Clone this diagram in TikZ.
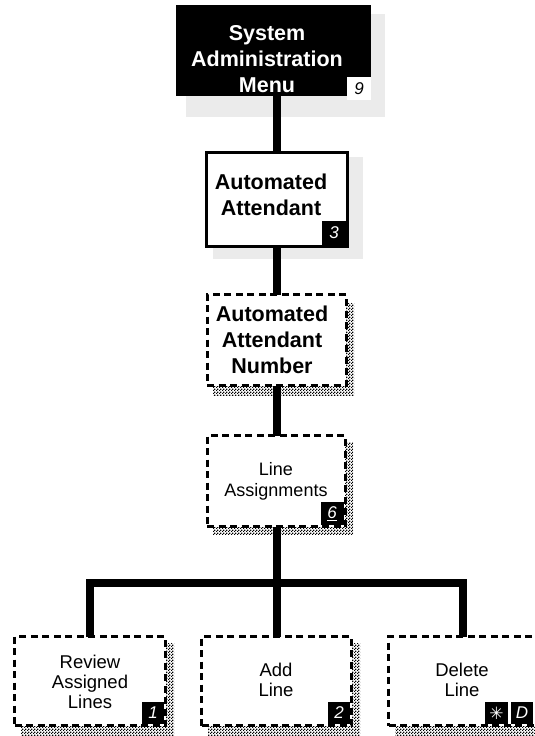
\documentclass[tikz,border=0pt]{standalone}
\usepackage{fontspec}
\setmainfont{Liberation Sans}
\newfontfamily\symfont{DejaVu Sans}
\usetikzlibrary{patterns,calc}

% fine black/white checker used for the dotted drop shadows
\pgfdeclarepatternformonly{checker}{\pgfpointorigin}{\pgfqpoint{3pt}{3pt}}{\pgfqpoint{3pt}{3pt}}{%
  \pgfpathrectangle{\pgfpointorigin}{\pgfqpoint{1.5pt}{1.5pt}}%
  \pgfpathrectangle{\pgfqpoint{1.5pt}{1.5pt}}{\pgfqpoint{1.5pt}{1.5pt}}%
  \pgfusepath{fill}}

\begin{document}
\begin{tikzpicture}[x=1pt,y=-1pt,
  every node/.style={inner sep=0pt, outer sep=0pt},
  blackbox/.style={fill=black, rectangle},
  solidbox/.style={draw=black, line width=3pt, fill=white, rectangle},
  dashbox/.style={draw=black, line width=3pt, fill=white, rectangle, dash pattern=on 7pt off 4.5pt},
  bigtxt/.style={font=\fontsize{21.5}{26}\selectfont\bfseries, align=center},
  midtxt/.style={font=\fontsize{18}{21}\selectfont, align=center},
  smalltxt/.style={font=\fontsize{18.5}{20}\selectfont, align=center},
  keybox/.style={fill=black, text=white, font=\fontsize{17}{17}\selectfont\itshape, minimum width=23pt, minimum height=23pt},
  keyboxsmall/.style={keybox, minimum width=22pt, minimum height=22pt},
  whitekey/.style={keybox, fill=white, text=black},
  conn/.style={line width=8pt},
  softshadow/.style={fill=black!8},
  dotshadow/.style={pattern=checker, pattern color=black},
]
\useasboundingbox (0,0) rectangle (535,736);

% ---- shadows -------------------------------------------------------
\fill[softshadow] (186,14) rectangle (385,117);
\fill[softshadow] (213,157) rectangle (363,259);
\fill[dotshadow]  (213,303) rectangle (354,395);
\fill[dotshadow]  (213,442) rectangle (353,534);
\fill[dotshadow]  (21,643)  rectangle (174,736);
\fill[dotshadow]  (208,643) rectangle (360,736);
\fill[dotshadow]  (395,643) rectangle (545,736);

% ---- boxes ---------------------------------------------------------
\node[blackbox, minimum width=195pt, minimum height=91pt] (sysmenu) at (273.5,50.5) {};
\node[solidbox, minimum width=141pt, minimum height=94pt] (aa) at (277,199.5) {};
\node[dashbox, minimum width=139pt, minimum height=91pt] (aanum) at (276.5,340) {};
\node[dashbox, minimum width=138pt, minimum height=91pt] (lines) at (276,481) {};
\node[dashbox, minimum width=151pt, minimum height=89pt] (review) at (90,681) {};
\node[dashbox, minimum width=150pt, minimum height=89pt] (add) at (276.5,681) {};
\node[dashbox, minimum width=148pt, minimum height=89pt] (del) at (462.5,681) {};

% ---- connectors ----------------------------------------------------
\coordinate (bus) at (277,583);
\draw[conn] (sysmenu.south -| aa.north) -- (aa.north);
\draw[conn] (aa.south) -- (aa.south |- aanum.north);
\draw[conn] (aa.south |- aanum.south) -- (aa.south |- lines.north);
\draw[conn] (aa.south |- lines.south) -- (bus);
\draw[conn] (review.north) -- (review.north |- bus) -- (del.north |- bus) -- (del.north);
\draw[conn] (add.north) -- (add.north |- bus);

% ---- box texts -----------------------------------------------------
\node[bigtxt, text=white] (sysmenu-text) at (267,59) {System\\Administration\\Menu};
\node[bigtxt] (aa-text) at (271,195) {Automated\\Attendant};
\node[bigtxt] (aanum-text) at (272,339.5) {Automated\\Attendant\\Number};
\node[midtxt] (lines-text) at (276,481) {Line\\Assignments};
\node[smalltxt] (review-text) at (90,682) {Review\\Assigned\\Lines};
\node[smalltxt] (add-text) at (276,680) {Add\\Line};
\node[smalltxt] (del-text) at (462,680) {Delete\\Line};

% ---- key labels ----------------------------------------------------
\node[whitekey, minimum width=24pt, anchor=south east] (key9) at (371,100) {9};
\node[keybox, minimum width=24pt, minimum height=24pt, anchor=south east] (key3) at ($(aa.south east)+(-1.5,-1.5)$) {3};
\node[keybox, anchor=south east] (key6) at ($(lines.south east)+(-1.5,-1.5)$) {\underline{6}};
\node[keyboxsmall, anchor=south east] (key1) at ($(review.south east)+(-1.5,-1.5)$) {1};
\node[keyboxsmall, anchor=south east] (key2) at ($(add.south east)+(-1.5,-1.5)$) {2};
\node[keyboxsmall, anchor=south east] (keyD) at (533,724) {D};
\node[keyboxsmall, minimum width=23pt, anchor=south east] (keystar) at (508,724) {\symfont\upshape ✳};
\end{tikzpicture}
\end{document}
